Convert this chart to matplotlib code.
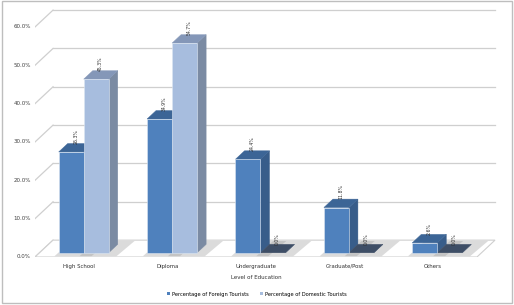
import matplotlib
matplotlib.use("Agg")
import matplotlib.pyplot as plt
from matplotlib.patches import Polygon, Patch, Rectangle

# data
categories = ["High School", "Diploma", "Undergraduate", "Graduate/Post", "Others"]
foreign = [26.3, 34.9, 24.4, 11.8, 2.6]
domestic = [45.3, 54.7, 0.0, 0.0, 0.0]
yticks = [0, 10, 20, 30, 40, 50, 60]

# depth of the fake 3d box in data units
DX = 0.204
DY = 4.4
BW = 0.283      # bar width
D0, D1 = 0.25, 0.75

fig = plt.figure(figsize=(5.14, 3.05), dpi=100)
fig.patch.set_facecolor("white")
fig.add_artist(Rectangle((0.003, 0.006), 0.993, 0.99, transform=fig.transFigure,
                         fill=False, ec="#BEBEBE", lw=1.0))

ax = fig.add_axes([35 / 514, 48 / 305, 468.5 / 514, 249.2 / 305])
ax.set_xlim(-0.5, 4.8)
ax.set_ylim(0, 65)
ax.axis("off")

grid_c = "#CFCFCF"
# floor
ax.add_patch(Polygon([(-0.5, 0), (4.5, 0), (4.5 + DX, DY), (-0.5 + DX, DY)],
                     closed=True, fc="white", ec=grid_c, lw=0.8, zorder=1))
# back wall gridlines + left wall diagonals
for v in yticks:
    if v > 0:
        ax.plot([-0.5 + DX, 4.5 + DX], [v + DY, v + DY], color=grid_c, lw=0.9, zorder=0)
    ax.plot([-0.5, -0.5 + DX], [v, v + DY], color=grid_c, lw=0.9, zorder=0)
    ax.text(-0.55, v, "%.1f%%" % v, ha="right", va="center", fontsize=4.0, color="#404040")


def bar3d(x0, h, front, side, top, label):
    x1 = x0 + BW
    a, b = D0, D1
    # shadow on the floor
    ax.add_patch(Polygon([(x0 + 0.02 * DX, 0.05 * DY), (x1 + 0.14, 0.05 * DY),
                          (x1 + 0.14 + DX, 0.95 * DY), (x0 + 0.95 * DX, 0.95 * DY)],
                         closed=True, fc="#9A9A9A", ec="none", alpha=0.35, zorder=2))
    ax.add_patch(Polygon([(x1 + a * DX, a * DY), (x1 + b * DX, b * DY),
                          (x1 + b * DX, b * DY + h), (x1 + a * DX, a * DY + h)],
                         closed=True, fc=side, ec=side, lw=0.3, zorder=3))
    ax.add_patch(Polygon([(x0 + a * DX, a * DY + h), (x1 + a * DX, a * DY + h),
                          (x1 + b * DX, b * DY + h), (x0 + b * DX, b * DY + h)],
                         closed=True, fc=top, ec=top, lw=0.3, zorder=4))
    if h > 0:
        ax.bar(x0 + a * DX, h, width=BW, bottom=a * DY, align="edge",
               color=front, edgecolor="#DCE6F2", lw=0.4, zorder=5)
    cx = (x0 + x1) / 2 + 0.5 * DX
    ax.text(cx, h + 0.5 * DY + 1.0, label, rotation=90, ha="center", va="bottom",
            fontsize=3.3, color="#303030", zorder=6)


for i in range(len(categories)):
    bar3d(i - BW, foreign[i], "#4F81BD", "#385D8A", "#3C6596", "%.1f%%" % foreign[i])
    dtop = "#8497B8" if domestic[i] > 0 else "#3E4E66"
    bar3d(i, domestic[i], "#A7BDDE", "#7B8BA3", dtop, "%.1f%%" % domestic[i])
    ax.text(i, -1.8, categories[i], ha="center", va="top", fontsize=3.9, color="#303030")

ax.text(2, -4.6, "Level of Education", ha="center", va="top", fontsize=4.0, color="#303030")

handles = [Patch(fc="#4F81BD", label="Percentage of Foreign Tourists"),
           Patch(fc="#A7BDDE", label="Percentage of Domestic Tourists")]
fig.legend(handles=handles, loc="center", bbox_to_anchor=(0.5, 0.036), ncol=2,
           frameon=False, fontsize=3.7, handlelength=0.6, handleheight=0.6,
           handletextpad=0.4, columnspacing=2.2)

fig.savefig("out.png", dpi=100)
